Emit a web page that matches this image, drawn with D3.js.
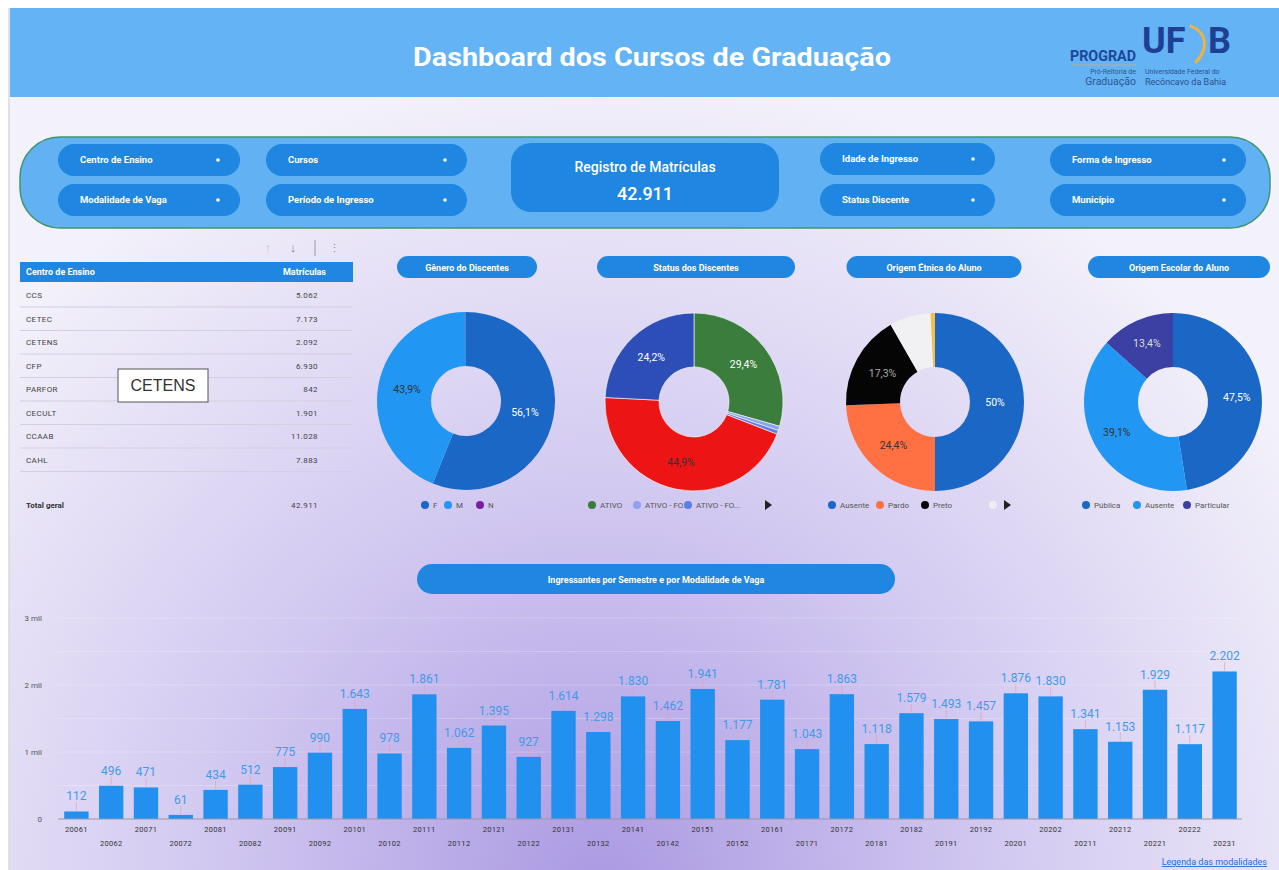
<!DOCTYPE html>
<html><head><meta charset="utf-8">
<script src="https://cdn.jsdelivr.net/npm/d3@7"></script>
<style>
html,body{margin:0;padding:0;background:#fff;}
svg{display:block;font-family:Roboto,"Noto Sans",Arial,sans-serif;}
</style></head>
<body>
<script>
// ---------- DATA ----------
const centros = ["CCS","CETEC","CETENS","CFP","PARFOR","CECULT","CCAAB","CAHL"];
const matriculas = [5062,7173,2092,6930,842,1901,11028,7883];
const totalGeral = 42911;

const generoLabels = ["F","M","N"];
const generoValues = [56.1,43.9,0.05];

const statusLabels = ["ATIVO","ATIVO - FORMANDO","ATIVO - FORMADO","INATIVO","FORMADO"];
const statusValues = [29.4,0.8,0.7,44.9,24.2];

const etnicaLabels = ["Ausente","Pardo","Preto","Branco","Amarelo"];
const etnicaValues = [50,24.4,17.3,7.5,0.8];

const escolarLabels = ["Pública","Ausente","Particular"];
const escolarValues = [47.5,39.1,13.4];

const semestres = ["20061","20062","20071","20072","20081","20082","20091","20092","20101","20102",
  "20111","20112","20121","20122","20131","20132","20141","20142","20151","20152",
  "20161","20171","20172","20181","20182","20191","20192","20201","20202","20211",
  "20212","20221","20222","20231"];
const ingressantes = [112,496,471,61,434,512,775,990,1643,978,
  1861,1062,1395,927,1614,1298,1830,1462,1941,1177,
  1781,1043,1863,1118,1579,1493,1457,1876,1830,1341,
  1153,1929,1117,2202];
const yTickValues = [0,1000,2000,3000];
const yTickLabels = ["0","1 mil","2 mil","3 mil"];

// ---------- SETUP ----------
const locale = d3.formatLocale({decimal:",",thousands:".",grouping:[3],currency:["R$",""]});
const fmt = locale.format(",d");
const pct = v => (Math.round(v*10)/10).toString().replace(".",",") + "%";

const W=1279,H=870;
const svg = d3.select("body").append("svg").attr("width",W).attr("height",H);
const defs = svg.append("defs");
const rg = defs.append("radialGradient").attr("id","bg").attr("gradientUnits","userSpaceOnUse")
  .attr("cx",600).attr("cy",890).attr("r",820);
rg.append("stop").attr("offset","0").attr("stop-color","#ab99e2");
rg.append("stop").attr("offset","0.5").attr("stop-color","#d3caf1");
rg.append("stop").attr("offset","1").attr("stop-color","#f3f1fa");

svg.append("rect").attr("width",W).attr("height",H).attr("fill","#fff");
svg.append("rect").attr("x",9).attr("y",97).attr("width",W-9).attr("height",H-97).attr("fill","url(#bg)");
svg.append("line").attr("x1",9).attr("x2",9).attr("y1",8).attr("y2",H).attr("stroke","#d9d9de").attr("stroke-width",1.5);

// ---------- HEADER ----------
svg.append("rect").attr("x",10).attr("y",8).attr("width",W-10).attr("height",89).attr("fill","#63b3f5");
svg.append("text").attr("x",652).attr("y",66).attr("text-anchor","middle")
  .attr("font-size",26).attr("font-weight",700).attr("fill","#fff")
  .attr("textLength",478).attr("lengthAdjust","spacingAndGlyphs")
  .text("Dashboard dos Cursos de Graduação");

// logos
const lg = svg.append("g");
lg.append("text").attr("x",1136).attr("y",61).attr("text-anchor","end").attr("font-size",15).attr("font-weight",700)
  .attr("fill","#1d4797").attr("textLength",66).attr("lengthAdjust","spacingAndGlyphs").text("PROGRAD");
lg.append("line").attr("x1",1072).attr("x2",1136).attr("y1",65).attr("y2",65).attr("stroke","#c9b27a").attr("stroke-width",0.8);
lg.append("text").attr("x",1136).attr("y",74).attr("text-anchor","end").attr("font-size",7).attr("fill","#2f5590").text("Pró-Reitoria de");
lg.append("text").attr("x",1136).attr("y",85).attr("text-anchor","end").attr("font-size",10.5).attr("fill","#2f5590").text("Graduação");
lg.append("text").attr("x",1142).attr("y",53).attr("font-size",36).attr("font-weight",700).attr("fill","#1f3f93").text("UF");
lg.append("path").attr("d","M1191,26 C1207,33 1209,48 1196,62").attr("fill","none").attr("stroke","#f2b23e").attr("stroke-width",3).attr("stroke-linecap","round");
lg.append("text").attr("x",1208).attr("y",53).attr("font-size",36).attr("font-weight",700).attr("fill","#1f3f93").text("B");
lg.append("text").attr("x",1145).attr("y",74).attr("font-size",7).attr("fill","#2f4f8f").text("Universidade Federal do");
lg.append("text").attr("x",1145).attr("y",85).attr("font-size",9).attr("fill","#2f4f8f").text("Recôncavo da Bahia");

// ---------- FILTER PANEL ----------
svg.append("rect").attr("x",20).attr("y",137).attr("width",1250).attr("height",91).attr("rx",40)
  .attr("fill","#62b1f3").attr("stroke","#3e9670").attr("stroke-width",1.5);
const filters = [
  {t:"Centro de Ensino",x:58,y:144,w:182},
  {t:"Modalidade de Vaga",x:58,y:184,w:182},
  {t:"Cursos",x:266,y:144,w:201},
  {t:"Período de Ingresso",x:266,y:184,w:201},
  {t:"Idade de Ingresso",x:820,y:143,w:175},
  {t:"Status Discente",x:820,y:184,w:175},
  {t:"Forma de Ingresso",x:1050,y:144,w:196},
  {t:"Município",x:1050,y:184,w:196}
];
const fg = svg.append("g").selectAll("g").data(filters).join("g");
fg.append("rect").attr("x",d=>d.x).attr("y",d=>d.y).attr("width",d=>d.w).attr("height",32).attr("rx",16).attr("fill","#1f86e2");
fg.append("text").attr("x",d=>d.x+22).attr("y",d=>d.y+19).attr("font-size",9.5).attr("font-weight",700).attr("fill","#fff").text(d=>d.t);
fg.append("circle").attr("cx",d=>d.x+d.w-22).attr("cy",d=>d.y+16).attr("r",1.8).attr("fill","#fff");

svg.append("rect").attr("x",511).attr("y",143).attr("width",268).attr("height",69).attr("rx",20).attr("fill","#1f86e2");
svg.append("text").attr("x",645).attr("y",172).attr("text-anchor","middle").attr("font-size",14).attr("font-weight",500).attr("fill","#fff").text("Registro de Matrículas");
svg.append("text").attr("x",645).attr("y",200).attr("text-anchor","middle").attr("font-size",18).attr("font-weight",500).attr("fill","#fff").text(fmt(totalGeral));

// ---------- TABLE ----------
const tg = svg.append("g");
tg.append("text").attr("x",268).attr("y",252).attr("text-anchor","middle").attr("font-size",13).attr("fill","#c4c4cc").text("↑");
tg.append("text").attr("x",293).attr("y",252).attr("text-anchor","middle").attr("font-size",13).attr("fill","#8a8a94").text("↓");
tg.append("line").attr("x1",315).attr("x2",315).attr("y1",240).attr("y2",256).attr("stroke","#9a9aa4");
tg.append("text").attr("x",334).attr("y",252).attr("text-anchor","middle").attr("font-size",11).attr("fill","#8a8a94").text("⋮");
tg.append("rect").attr("x",20).attr("y",262).attr("width",333).attr("height",20).attr("fill","#1f86e2");
tg.append("text").attr("x",26).attr("y",275).attr("font-size",9).attr("font-weight",700).attr("fill","#fff").text("Centro de Ensino");
tg.append("text").attr("x",326).attr("y",275).attr("text-anchor","end").attr("font-size",9).attr("font-weight",700).attr("fill","#fff").text("Matrículas");
const rowY = i => 295 + i*23.5;
const rows = tg.selectAll("g.row").data(centros).join("g").attr("class","row");
rows.append("text").attr("x",26).attr("y",(d,i)=>rowY(i)+3).attr("font-size",8).attr("letter-spacing",0.4).attr("fill","#444").text(d=>d);
rows.append("text").attr("x",318).attr("y",(d,i)=>rowY(i)+3).attr("text-anchor","end").attr("font-size",8).attr("letter-spacing",0.4).attr("fill","#444").text((d,i)=>fmt(matriculas[i]));
rows.append("line").attr("x1",20).attr("x2",352).attr("y1",(d,i)=>rowY(i)+12).attr("y2",(d,i)=>rowY(i)+12).attr("stroke","#d2cfe0");
tg.append("text").attr("x",26).attr("y",508).attr("font-size",8).attr("font-weight",700).attr("fill","#333").text("Total geral");
tg.append("text").attr("x",318).attr("y",508).attr("text-anchor","end").attr("font-size",8).attr("letter-spacing",0.4).attr("fill","#444").text(fmt(totalGeral));
// tooltip
tg.append("rect").attr("x",118).attr("y",369).attr("width",90).attr("height",33).attr("fill","#fff").attr("stroke","#555").attr("stroke-width",1);
tg.append("text").attr("x",163).attr("y",391).attr("text-anchor","middle").attr("font-size",16).attr("font-family","'Liberation Sans',Arial,sans-serif").attr("fill","#333").text("CETENS");

// ---------- DONUTS ----------
function pill(cx,y,w,h,text){
  svg.append("rect").attr("x",cx-w/2).attr("y",y).attr("width",w).attr("height",h).attr("rx",h/2).attr("fill","#1f86e2");
  svg.append("text").attr("x",cx).attr("y",y+h/2+3.5).attr("text-anchor","middle").attr("font-size",9).attr("font-weight",700).attr("fill","#fff").text(text);
}
function donut(cfg){
  const g = svg.append("g").attr("transform",`translate(${cfg.cx},${cfg.cy})`);
  const pie = d3.pie().sort(null).value(d=>d.v);
  const data = cfg.labels.map((l,i)=>({l,v:cfg.values[i],c:cfg.colors[i],t:cfg.textColors[i]}));
  const arcs = pie(data);
  const arc = d3.arc().innerRadius(35).outerRadius(89);
  const la = d3.arc().innerRadius(cfg.lr).outerRadius(cfg.lr);
  g.selectAll("path").data(arcs).join("path").attr("d",arc).attr("fill",d=>d.data.c)
    .attr("stroke",cfg.stroke||"none").attr("stroke-width",cfg.stroke?0.6:0);
  g.selectAll("text").data(arcs.filter(a=>a.data.v>=10)).join("text")
    .attr("transform",d=>`translate(${la.centroid(d)})`).attr("text-anchor","middle").attr("dy","0.35em")
    .attr("font-size",10.5).attr("fill",d=>d.data.t).text(d=>pct(d.data.v));
  // legend
  const lgd = svg.append("g");
  cfg.legend.forEach(e=>{
    lgd.append("circle").attr("cx",e.x).attr("cy",505).attr("r",4).attr("fill",e.c);
    if(e.t) lgd.append("text").attr("x",e.x+8).attr("y",508).attr("font-size",8).attr("fill","#555").text(e.t);
  });
  if(cfg.arrow) lgd.append("path").attr("d",`M${cfg.arrow-3},500 l7,5 l-7,5 z`).attr("fill","#222");
}
pill(467,256,140,22,"Gênero do Discentes");
pill(696,256,198,22,"Status dos Discentes");
pill(934,256,175,22,"Origem Étnica do Aluno");
pill(1179,256,182,22,"Origem Escolar do Aluno");

const cDark="#1b67c6", cLight="#2196f3";
donut({cx:466,cy:401,lr:60,labels:generoLabels,values:generoValues,
  colors:[cDark,cLight,"#7b1fa2"],textColors:["#fff","#333","#fff"],
  legend:[{x:425,c:cDark,t:"F"},{x:448,c:cLight,t:"M"},{x:480,c:"#7b1fa2",t:"N"}]});
donut({cx:694,cy:402,lr:62,labels:statusLabels,values:statusValues,
  colors:["#3a7d3c","#8ea2ee","#5b7fe2","#ec1414","#2d4eb6"],textColors:["#fff","#333","#333","#333","#fff"],
  stroke:"#fff",
  legend:[{x:592,c:"#3a7d3c",t:"ATIVO"},{x:637,c:"#8ea2ee",t:"ATIVO - FO..."},{x:688,c:"#5b7fe2",t:"ATIVO - FO..."}],arrow:768});
donut({cx:935,cy:402,lr:60,labels:etnicaLabels,values:etnicaValues,
  colors:[cDark,"#ff7143","#050505","#f1f0f2","#f3c244"],textColors:["#fff","#333","#aaa","#333","#333"],
  legend:[{x:832,c:cDark,t:"Ausente"},{x:880,c:"#ff7143",t:"Pardo"},{x:925,c:"#050505",t:"Preto"},{x:993,c:"#eeedf2",t:""}],arrow:1007});
donut({cx:1173,cy:402,lr:64,labels:escolarLabels,values:escolarValues,
  colors:[cDark,cLight,"#3b40a2"],textColors:["#fff","#333","#ddd"],
  legend:[{x:1086,c:cDark,t:"Pública"},{x:1137,c:cLight,t:"Ausente"},{x:1187,c:"#3b40a2",t:"Particular"}]});

// ---------- BAR CHART ----------
pill(656,564,478,30,"Ingressantes por Semestre e por Modalidade de Vaga");

const x = d3.scaleBand().domain(semestres).range([59,1242]).paddingInner(0.3).paddingOuter(0.15);
const y = d3.scaleLinear().domain([0,3000]).range([819,618]);
const bg = svg.append("g");
bg.selectAll("line.grid").data(d3.range(500,3001,500)).join("line").attr("class","grid")
  .attr("x1",58).attr("x2",1242).attr("y1",d=>y(d)).attr("y2",d=>y(d)).attr("stroke","#fff").attr("stroke-opacity",0.22);
const yAxis = bg.append("g").attr("transform","translate(46,0)")
  .call(d3.axisLeft(y).tickValues(yTickValues).tickSize(0).tickPadding(4).tickFormat((d,i)=>yTickLabels[i]));
yAxis.select(".domain").remove();
yAxis.selectAll("text").attr("font-size",8).attr("fill","#555").attr("font-family","Roboto,Arial,sans-serif");

bg.selectAll("rect.bar").data(ingressantes).join("rect").attr("class","bar")
  .attr("x",(d,i)=>x(semestres[i])).attr("width",x.bandwidth())
  .attr("y",d=>y(d)).attr("height",d=>y(0)-y(d)).attr("fill","#2190ef");
bg.selectAll("line.tick2").data(ingressantes).join("line").attr("class","tick2")
  .attr("x1",(d,i)=>x(semestres[i])+x.bandwidth()/2).attr("x2",(d,i)=>x(semestres[i])+x.bandwidth()/2)
  .attr("y1",d=>y(d)-1).attr("y2",d=>y(d)-9).attr("stroke","#e8a0a8").attr("stroke-opacity",0.7).attr("stroke-width",1);
bg.selectAll("text.val").data(ingressantes).join("text").attr("class","val")
  .attr("x",(d,i)=>x(semestres[i])+x.bandwidth()/2).attr("y",d=>y(d)-11)
  .attr("text-anchor","middle").attr("font-size",12).attr("fill","#3f9be9").text(d=>fmt(d));
bg.append("line").attr("x1",58).attr("x2",1242).attr("y1",y(0)).attr("y2",y(0)).attr("stroke","#9a98a8").attr("stroke-width",1.2);
bg.selectAll("text.xl").data(semestres).join("text").attr("class","xl")
  .attr("x",d=>x(d)+x.bandwidth()/2).attr("y",(d,i)=>i%2===0?832:846)
  .attr("text-anchor","middle").attr("font-size",7.5).attr("letter-spacing",0.3).attr("fill","#333").text(d=>d);

svg.append("text").attr("x",1267).attr("y",865).attr("text-anchor","end").attr("font-size",9).attr("fill","#1a6fd8")
  .attr("text-decoration","underline").text("Legenda das modalidades");
</script>
</body></html>
